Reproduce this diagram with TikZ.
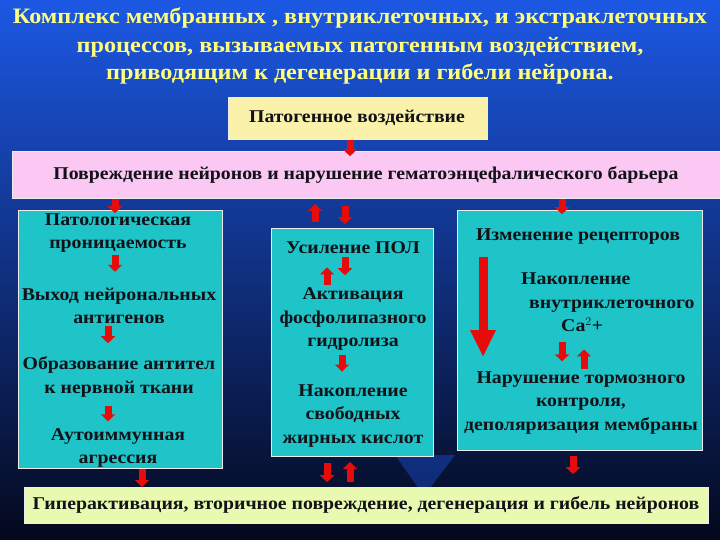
\documentclass[tikz,border=0pt]{standalone}
\usepackage{fontspec}
\setmainfont{Liberation Serif}[FakeStretch=1.1]
\usetikzlibrary{arrows.meta}

\definecolor{bgtop}{RGB}{28,88,228}
\definecolor{bgmid}{RGB}{18,58,165}
\definecolor{bgbot}{RGB}{4,8,28}
\definecolor{titlecol}{RGB}{255,255,125}
\definecolor{yellowbox}{RGB}{250,242,170}
\definecolor{pinkbox}{RGB}{250,200,242}
\definecolor{tealbox}{RGB}{30,196,200}
\definecolor{greenbox}{RGB}{232,250,176}
\definecolor{inkcol}{RGB}{18,18,24}
\definecolor{arrowred}{RGB}{230,12,12}

\tikzset{
  title/.style={text=titlecol, font=\fontsize{22}{24}\selectfont\bfseries},
  box/.style={draw=white!85!gray, line width=1.2pt, inner sep=0pt, anchor=north west},
  txt/.style={text=inkcol, font=\fontsize{18}{23.5}\selectfont\bfseries, align=center, inner sep=0pt},
  redarr/.style={arrowred, line width=7pt, -{Triangle[width=14pt,length=7pt]}},
  bigarr/.style={arrowred, line width=9pt, -{Triangle[width=24pt,length=27pt]}}
}

\begin{document}
\begin{tikzpicture}[x=1pt,y=-1pt]
    \useasboundingbox (0,0) rectangle (720,540);
    % background
    \shade[top color=bgtop, middle color=bgmid, bottom color=bgbot] (0,0) rectangle (720,540);
    \fill[bgtop!70!bgmid, opacity=0.45] (395,455) -- (455,455) -- (424,496) -- cycle;

    % title
    \node[title] (t1) at (360,18) {Комплекс мембранных , внутриклеточных, и экстраклеточных};
    \node[title] (t2) at (360,47) {процессов, вызываемых патогенным воздействием,};
    \node[title] (t3) at (360,74) {приводящим к дегенерации и гибели нейрона.};

    % boxes
    \node[box, fill=yellowbox, minimum width=259, minimum height=42] (patho) at (228,97) {};
    \node[box, fill=pinkbox, minimum width=712, minimum height=47] (damage) at (12,151) {};
    \node[box, fill=tealbox, minimum width=204, minimum height=258] (left) at (18,210) {};
    \node[box, fill=tealbox, minimum width=162, minimum height=228] (mid) at (271,228) {};
    \node[box, fill=tealbox, minimum width=245, minimum height=240] (right) at (457,210) {};
    \node[box, fill=greenbox, minimum width=684, minimum height=36] (final) at (24,487) {};

    \node[txt] (pathotxt) at (357,118) {Патогенное воздействие};
    \node[txt] (damagetxt) at (366,175) {Повреждение нейронов и нарушение гематоэнцефалического барьера};
    \node[txt] (finaltxt) at (366,505) {Гиперактивация, вторичное повреждение, дегенерация и гибель нейронов};

    % left column
    \node[txt] (l1) at (118,233) {Патологическая\\проницаемость};
    \node[txt] (l2) at (119,306) {Выход нейрональных\\антигенов};
    \node[txt] (l3) at (119,377) {Образование антител\\к нервной ткани};
    \node[txt] (l4) at (118,448) {Аутоиммунная\\агрессия};

    % middle column
    \node[txt] (m1) at (353,248) {Усиление ПОЛ};
    \node[txt] (m2) at (353,319) {Активация\\фосфолипазного\\гидролиза};
    \node[txt] (m3) at (353,416) {Накопление\\свободных\\жирных кислот};

    % right column
    \node[txt] (r1) at (578,237) {Изменение рецепторов};
    \node[txt, align=left, anchor=north west] (r2) at (521,273) {Накопление\\\hspace*{8pt}внутриклеточного\\\hspace*{40pt}Ca$^{2}$+};
    \node[txt] (r3) at (581,403) {Нарушение тормозного\\контроля,\\деполяризация мембраны};

    % arrows between boxes
    \draw[redarr] (patho.south -| 350,0) -- ++(0,16);
    \draw[redarr] (damage.south -| 115,0) -- ++(0,14);
    \draw[redarr] (mid.north -| 315,0) ++(0,-6) -- ++(0,-18);
    \draw[redarr] (damage.south -| 345,0) ++(0,7) -- ++(0,18);
    \draw[redarr] (damage.south -| 562,0) -- ++(0,15);
    \draw[redarr] (left.south -| 142,0) -- (final.north -| 142,0);
    \draw[redarr] (mid.south -| 327,0) ++(0,6) -- ++(0,19);
    \draw[redarr] (final.north -| 350,0) ++(0,-5) -- ++(0,-20);
    \draw[redarr] (right.south -| 573,0) ++(0,5) -- ++(0,18);

    % arrows inside boxes
    \draw[redarr] (l1.south -| 115,0) ++(0,2) -- ++(0,17);
    \draw[redarr] (l2.south -| 108,0) ++(0,2) -- ++(0,17);
    \draw[redarr] (l3.south -| 108,0) ++(0,9) -- ++(0,15);
    \draw[redarr] (m2.north -| 327,0) ++(0,-2) -- ++(0,-18);
    \draw[redarr] (m1.south -| 345,0) ++(0,3) -- ++(0,18);
    \draw[redarr] (m2.south -| 342,0) ++(0,4) -- ++(0,17);
    \draw[bigarr] (r1.south -| 483,0) ++(0,12) -- ++(0,100);
    \draw[redarr] (r2.south -| 562,0) ++(0,10) -- ++(0,19);
    \draw[redarr] (r3.north -| 584,0) ++(0,-2) -- ++(0,-20);
\end{tikzpicture}
\end{document}
